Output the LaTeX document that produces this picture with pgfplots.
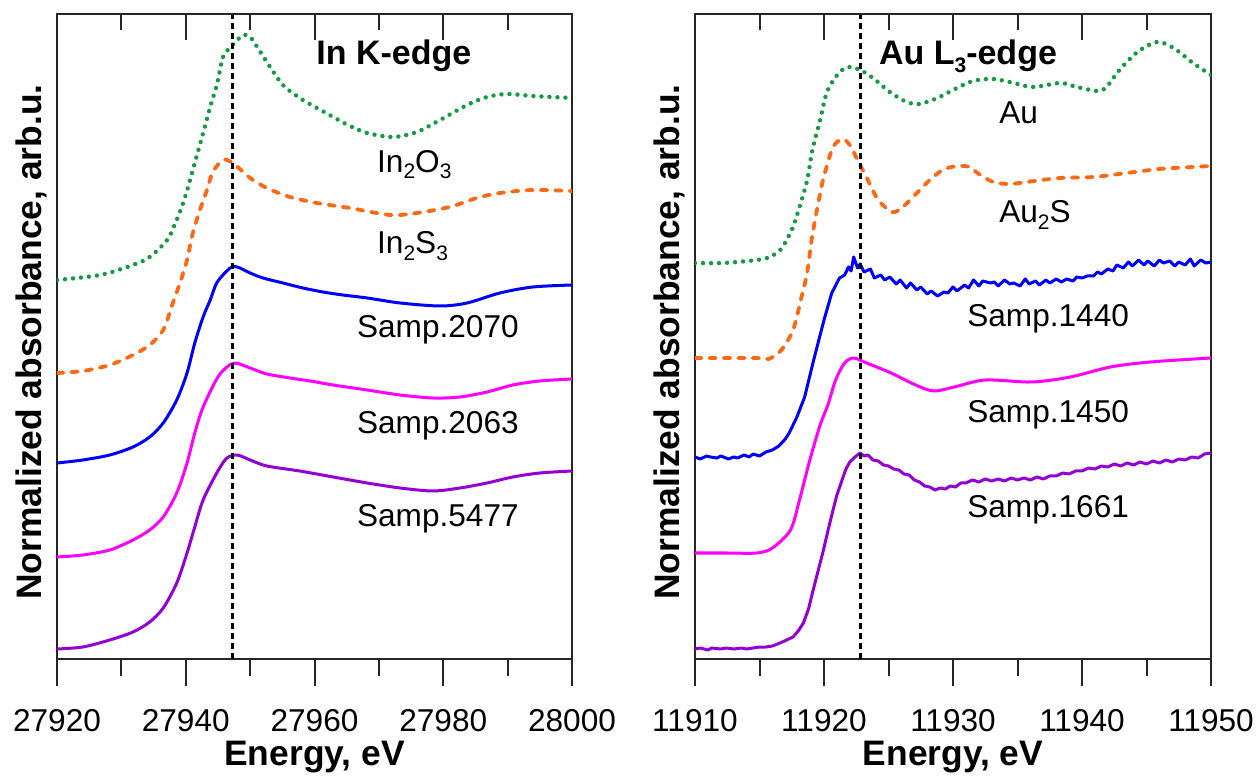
\documentclass[border=0pt]{standalone}
\usepackage{pgfplots}
\pgfplotsset{compat=1.18}
\usepackage{fontspec}
\setmainfont{Liberation Sans}
\definecolor{cgreen}{RGB}{20,155,65}
\definecolor{corange}{RGB}{255,105,20}
\definecolor{cblue}{RGB}{0,0,255}
\definecolor{cmag}{RGB}{255,0,255}
\definecolor{cpurp}{RGB}{148,0,211}
\newcommand\lab{\fontsize{15.8}{18}\selectfont}
\newcommand\ttl{\fontsize{17}{20}\selectfont\bfseries}
\newcommand\sub[1]{\raisebox{-0.22em}{\fontsize{10.5}{12}\selectfont #1}}
\pgfplotsset{
 base/.style={scale only axis, height=322.5pt, ymin=0, ymax=6.45, ytick=\empty,
   axis line style={black!85,line width=1pt}, every tick/.style={black!85,line width=1pt},
   major tick length=13.5pt, minor tick length=8.5pt},
 main/.style={base, xtick pos=left, tick align=outside,
   xticklabel style={font=\lab, anchor=base, yshift=-22.5pt},
   every axis x label/.style={at={(axis description cs:0.5,0)}, anchor=base, yshift=-53.3pt, font=\fontsize{17.7}{20}\selectfont\bfseries},
   every axis y label/.style={at={(axis description cs:-0.031,0.4915)}, rotate=90, anchor=base, font=\fontsize{17.7}{20}\selectfont\bfseries},
   xlabel={Energy, eV}, ylabel={Normalized absorbance, arb.u.}},
 topt/.style={base, axis x line*=top, axis y line=none, tick align=inside, xticklabels={}, major tick length=13pt, minor tick length=8pt},
 dotg/.style={cgreen, line width=2.2pt, line cap=round, dash pattern=on 0.01pt off 4pt},
 dashor/.style={corange, line width=1.9pt, line cap=round, dash pattern=on 3.2pt off 4pt},
 sol/.style={line width=1.5pt, line join=round},
 vline/.style={black, line width=1.4pt, dash pattern=on 3pt off 2pt},
}
\begin{document}
\begin{tikzpicture}
% ---------------- Left panel: In K-edge ----------------
\begin{axis}[main, at={(28.5pt,61pt)}, anchor=south west, width=257.5pt,
  xmin=27920, xmax=28000, xtick={27920,27940,27960,27980,28000},
  xticklabels={27920,27940,27960,27980,28000}, minor xtick={27930,27950,27970,27990}]
\addplot[dotg, smooth] coordinates {
(27920,3.79)(27926.7,3.84)(27931.8,3.94)(27934.4,4.02)(27937.1,4.19)(27938.6,4.39)
(27939.9,4.62)(27941.1,4.89)(27942.7,5.26)(27943.8,5.52)(27944.9,5.76)(27945.8,6.02)
(27947.3,6.14)(27948.9,6.24)(27950.0,6.22)(27951.1,6.12)(27953.1,5.92)(27955.1,5.74)
(27957.7,5.61)(27960.4,5.51)(27962.9,5.42)(27965.2,5.34)(27968.2,5.26)(27972.2,5.22)
(27975.9,5.27)(27979.5,5.39)(27983.7,5.54)(27986.8,5.62)(27989.9,5.65)(27993.9,5.63)(28000,5.61)};
\addplot[dashor, smooth] coordinates {
(27920,2.86)(27924.0,2.88)(27928.2,2.94)(27931.8,3.04)(27934.4,3.14)(27936.5,3.29)
(27938.0,3.56)(27939.1,3.76)(27940.2,3.99)(27941.1,4.26)(27942.2,4.49)(27943.3,4.69)
(27944.2,4.87)(27945.8,4.99)(27947.3,4.96)(27950.0,4.81)(27952.6,4.71)(27956.2,4.62)
(27960.4,4.56)(27965.5,4.51)(27971.7,4.44)(27975.9,4.46)(27981.0,4.52)(27985.2,4.61)
(27988.8,4.66)(27993.9,4.69)(28000,4.68)};
\addplot[sol, cblue, smooth] coordinates {
(27920,1.96)(27924.0,1.99)(27928.2,2.04)(27931.8,2.12)(27934.4,2.22)(27936.5,2.36)
(27938.6,2.59)(27940.2,2.86)(27941.4,3.16)(27942.7,3.42)(27943.8,3.59)(27944.9,3.77)
(27946.9,3.91)(27948.0,3.92)(27950.0,3.86)(27952.0,3.81)(27955.1,3.76)(27958.2,3.71)
(27961.3,3.67)(27964.4,3.64)(27968.2,3.61)(27973.3,3.56)(27979.5,3.53)(27983.7,3.56)
(27988.8,3.66)(27993.9,3.72)(28000,3.74)};
\addplot[sol, cmag, smooth] coordinates {
(27920,1.02)(27924.0,1.04)(27928.2,1.09)(27931.8,1.19)(27934.4,1.29)(27936.5,1.42)
(27938.6,1.66)(27940.2,1.96)(27941.4,2.26)(27942.7,2.52)(27944.9,2.81)(27946.4,2.92)
(27947.7,2.96)(27950.0,2.91)(27952.6,2.85)(27956.2,2.81)(27959.3,2.78)(27962.9,2.74)
(27968.2,2.69)(27973.3,2.64)(27978.4,2.61)(27982.6,2.62)(27986.8,2.67)(27990.8,2.74)
(27995.0,2.78)(28000,2.80)};
\addplot[sol, cpurp, smooth] coordinates {
(27920,0.10)(27924.0,0.12)(27928.2,0.19)(27931.8,0.27)(27934.4,0.37)(27936.5,0.51)
(27938.6,0.76)(27940.2,1.06)(27941.4,1.32)(27942.7,1.59)(27944.9,1.87)(27946.4,2.01)
(27948.0,2.04)(27950.0,1.99)(27952.6,1.93)(27957.7,1.88)(27962.9,1.82)
(27968.2,1.76)(27973.3,1.71)(27978.4,1.68)(27982.6,1.71)(27986.8,1.76)
(27990.8,1.82)(27995.0,1.86)(28000,1.88)};
\addplot[vline] coordinates {(27947.3,0)(27947.3,6.45)};
\node[anchor=base, font=\ttl] at (axis description cs:0.654,0.921) {In K-edge};
\node[anchor=base west, font=\lab] at (axis description cs:0.608,0.755) {In\sub{2}O\sub{3}};
\node[anchor=base west, font=\lab] at (axis description cs:0.608,0.629) {In\sub{2}S\sub{3}};
\node[anchor=base west, font=\lab] at (axis description cs:0.569,0.498) {Samp.2070};
\node[anchor=base west, font=\lab] at (axis description cs:0.569,0.350) {Samp.2063};
\node[anchor=base west, font=\lab] at (axis description cs:0.569,0.205) {Samp.5477};
\end{axis}
\begin{axis}[topt, at={(28.5pt,61pt)}, anchor=south west, width=257.5pt,
  xmin=27920, xmax=28000, xtick={27920,27940,27960,27980,28000}, minor xtick={27930,27950,27970,27990}]
\end{axis}
% ---------------- Right panel: Au L3-edge ----------------
\begin{axis}[main, at={(347.5pt,61pt)}, anchor=south west, width=258pt,
  xmin=11910, xmax=11950, xtick={11910,11920,11930,11940,11950},
  xticklabels={11910,11920,11930,11940,11950}, minor xtick={11915,11925,11935,11945}]
\addplot[dotg, smooth] coordinates {
(11910,3.96)(11912.2,3.96)(11914.8,3.99)(11915.8,4.02)(11916.6,4.09)(11917.1,4.19)
(11917.6,4.32)(11918.1,4.52)(11918.7,4.79)(11919.1,5.09)(11919.7,5.39)(11920.2,5.66)
(11920.9,5.82)(11921.5,5.90)(11922.0,5.92)(11922.8,5.89)(11923.8,5.81)(11925.1,5.67)
(11926.4,5.57)(11927.4,5.55)(11928.8,5.61)(11930.0,5.69)(11931.3,5.77)(11931.9,5.79)
(11933.1,5.80)(11934.4,5.77)(11936.2,5.72)(11938.3,5.76)(11939.6,5.72)(11941.2,5.68)
(11941.9,5.72)(11942.9,5.89)(11944.3,6.07)(11945.8,6.17)(11947.1,6.11)(11948.6,5.96)(11950,5.84)};
\addplot[dashor, smooth] coordinates {
(11910,3.01)(11912.2,3.01)(11914.8,3.01)(11915.7,3.00)(11916.7,3.09)(11917.6,3.29)
(11918.2,3.59)(11918.7,3.87)(11919.1,4.24)(11919.8,4.72)(11920.2,4.92)(11920.7,5.12)
(11921.4,5.20)(11922.0,5.14)(11922.6,4.99)(11923.4,4.79)(11924.2,4.59)(11925.3,4.47)
(11926.1,4.52)(11927.2,4.66)(11928.2,4.79)(11929.2,4.89)(11930.3,4.93)(11931.3,4.92)
(11931.9,4.86)(11933.1,4.77)(11934.4,4.75)(11935.7,4.77)(11938.3,4.81)(11940.9,4.82)
(11943.5,4.86)(11946.0,4.90)(11948.6,4.92)(11950,4.93)};
\addplot[sol, cblue] coordinates {
(11910,2.02)(11910.4,2.00)(11910.9,2.03)(11911.2,2.02)(11911.7,2.01)(11912,2.03)(11912.6,2.00)(11913,2.02)
(11913.3,2.01)(11913.8,2.04)(11914.2,2.02)(11914.5,2.05)(11915,2.03)(11915.5,2.07)(11916,2.09)(11916.5,2.13)
(11917,2.20)(11917.3,2.26)(11917.9,2.42)(11918.5,2.62)(11919.2,2.99)(11920.0,3.39)
(11920.6,3.66)(11921.2,3.81)(11921.6,3.84)(11921.9,3.92)(11922.1,3.88)(11922.3,4.02)
(11922.6,3.91)(11922.8,3.95)(11923.1,3.87)(11923.6,3.90)(11923.9,3.81)(11924.4,3.84)
(11924.7,3.79)(11925.1,3.82)(11925.6,3.75)(11925.9,3.79)(11926.4,3.71)(11926.7,3.76)
(11927.2,3.69)(11927.5,3.72)(11928.0,3.65)(11928.3,3.68)(11928.8,3.63)(11929.3,3.67)
(11929.6,3.66)(11930.0,3.72)(11930.3,3.68)(11930.9,3.74)(11931.2,3.71)(11931.6,3.79)
(11932.0,3.73)(11932.3,3.78)(11932.9,3.76)(11933.2,3.77)(11933.5,3.73)(11934.0,3.79)
(11934.4,3.75)(11934.7,3.76)(11935.2,3.73)(11935.6,3.80)(11935.9,3.75)(11936.4,3.78)
(11936.7,3.74)(11937.2,3.79)(11937.5,3.76)(11938.0,3.80)(11938.4,3.77)(11938.8,3.80)
(11939.3,3.78)(11939.6,3.82)(11940.0,3.81)(11940.4,3.83)(11940.9,3.83)(11941.2,3.87)
(11941.5,3.85)(11942.0,3.90)(11942.4,3.88)(11942.7,3.94)(11943.2,3.91)(11943.6,3.97)
(11943.9,3.93)(11944.4,3.99)(11944.8,3.94)(11945.1,3.98)(11945.6,3.93)(11946.0,3.99)
(11946.3,3.96)(11946.8,3.98)(11947.2,3.93)(11947.5,3.97)(11948.0,3.94)(11948.4,4.00)
(11948.7,3.93)(11949.2,3.99)(11949.6,3.96)(11950,3.97)};
\addplot[sol, cmag, smooth] coordinates {
(11910,1.06)(11912.5,1.06)(11914.8,1.06)(11916.0,1.11)(11917.4,1.29)(11918.1,1.59)
(11918.9,1.99)(11919.7,2.34)(11920.3,2.54)(11920.9,2.79)(11921.6,2.96)(11922.3,3.01)
(11923.3,2.96)(11925.2,2.86)(11927.1,2.74)(11928.5,2.68)(11930.1,2.72)(11932.5,2.79)
(11936.1,2.77)(11939.1,2.82)(11942.2,2.92)(11945.3,2.97)(11950,3.01)};
\addplot[sol, cpurp] coordinates {
(11910,0.10)(11910.4,0.11)(11911,0.09)(11911.3,0.11)(11912,0.10)(11912.4,0.11)(11913,0.10)
(11913.6,0.11)(11914,0.10)(11914.5,0.11)(11915,0.12)(11915.5,0.12)(11916,0.13)(11916.6,0.16)
(11917.1,0.19)(11917.6,0.22)(11918.0,0.28)(11918.4,0.36)(11918.8,0.50)(11919.1,0.66)
(11919.5,0.86)(11919.9,1.06)(11920.3,1.28)(11920.7,1.49)(11921.0,1.64)(11921.4,1.79)
(11921.7,1.90)(11922.0,1.97)(11922.4,2.02)(11922.8,2.06)(11923.1,2.03)(11923.4,2.04)
(11923.8,1.99)(11924.2,1.98)(11924.6,1.94)(11925.0,1.93)(11925.4,1.90)(11925.8,1.89)
(11926.2,1.85)(11926.6,1.84)(11927.0,1.79)(11927.4,1.77)(11927.8,1.73)(11928.2,1.72)
(11928.6,1.69)(11929.0,1.71)(11929.4,1.70)(11929.8,1.73)(11930.2,1.72)(11930.6,1.76)
(11931.0,1.76)(11931.5,1.79)(11932.0,1.77)(11932.5,1.80)(11933.0,1.78)(11933.5,1.80)
(11934.0,1.78)(11934.5,1.81)(11935.0,1.79)(11935.5,1.81)(11936.0,1.79)(11936.5,1.82)
(11937.0,1.80)(11937.5,1.83)(11938.0,1.83)(11938.5,1.86)(11939.0,1.85)(11939.5,1.88)
(11940.0,1.88)(11940.5,1.91)(11941.0,1.90)(11941.5,1.93)(11942.0,1.92)(11942.5,1.95)
(11943.0,1.93)(11943.5,1.96)(11944.0,1.94)(11944.5,1.97)(11945.0,1.95)(11945.5,1.98)
(11946.0,1.96)(11946.5,1.99)(11947.0,1.97)(11947.5,2.00)(11948.0,1.99)(11948.5,2.02)
(11949.0,2.01)(11949.5,2.05)(11950,2.06)};
\addplot[vline] coordinates {(11922.8,0)(11922.8,6.45)};
\node[anchor=base, font=\ttl] at (axis description cs:0.529,0.921) {Au L\sub{3}-edge};
\node[anchor=base west, font=\lab] at (axis description cs:0.576,0.831) {Au};
\node[anchor=base west, font=\lab] at (axis description cs:0.576,0.676) {Au\sub{2}S};
\node[anchor=base west, font=\lab] at (axis description cs:0.514,0.515) {Samp.1440};
\node[anchor=base west, font=\lab] at (axis description cs:0.514,0.366) {Samp.1450};
\node[anchor=base west, font=\lab] at (axis description cs:0.514,0.219) {Samp.1661};
\end{axis}
\begin{axis}[topt, at={(347.5pt,61pt)}, anchor=south west, width=258pt,
  xmin=11910, xmax=11950, xtick={11910,11920,11930,11940,11950}, minor xtick={11915,11925,11935,11945}]
\end{axis}
\pgfresetboundingbox
\useasboundingbox (0,0) rectangle (628pt,390.5pt);
\end{tikzpicture}
\end{document}
